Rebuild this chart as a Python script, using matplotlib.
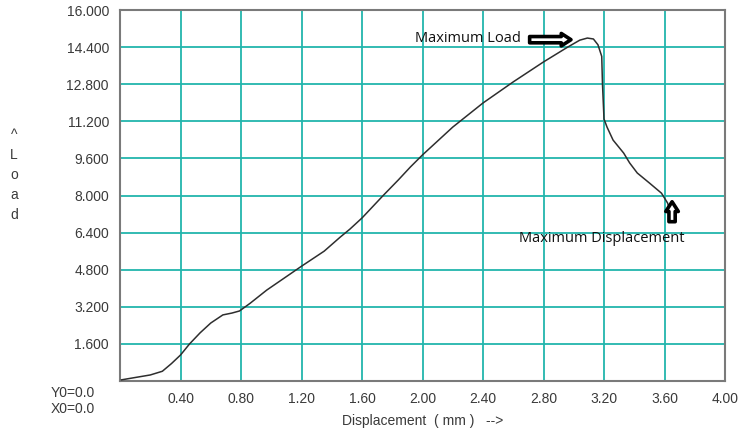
import matplotlib.pyplot as plt

# curva carga-desplazamiento
disp = [0.01, 0.10, 0.20, 0.28, 0.34, 0.40, 0.46, 0.53, 0.60, 0.68, 0.74, 0.79,
        0.86, 0.97, 1.20, 1.35, 1.455, 1.52, 1.60, 1.74, 1.84, 1.92, 2.00, 2.20,
        2.40, 2.60, 2.80, 2.96, 3.04, 3.09, 3.13, 3.16, 3.185, 3.19, 3.20, 3.22,
        3.26, 3.33, 3.37, 3.42, 3.50, 3.58, 3.62, 3.64]
load = [0.05, 0.15, 0.26, 0.42, 0.75, 1.12, 1.60, 2.08, 2.50, 2.85, 2.93, 3.02,
        3.35, 3.92, 4.95, 5.60, 6.20, 6.55, 7.03, 8.00, 8.67, 9.23, 9.75, 10.95,
        11.99, 12.90, 13.76, 14.40, 14.70, 14.79, 14.75, 14.50, 14.00, 12.80, 11.30, 10.95,
        10.39, 9.83, 9.40, 8.97, 8.54, 8.10, 7.68, 7.29]

xticks = [0.4, 0.8, 1.2, 1.6, 2.0, 2.4, 2.8, 3.2, 3.6, 4.0]
yticks = [1.6, 3.2, 4.8, 6.4, 8.0, 9.6, 11.2, 12.8, 14.4, 16.0]

fuente = 'Liberation Sans'
gris = '#3a3a3a'

fig = plt.figure(figsize=(7.42, 4.28), dpi=100)
ax = fig.add_axes([120 / 742, 1 - 381 / 428, 605 / 742, 371 / 428])

ax.plot(disp, load, color='#2e2e2e', lw=1.1, zorder=3)

ax.set_xlim(0, 4.0)
ax.set_ylim(0, 16.0)
ax.set_xticks(xticks)
ax.set_yticks(yticks)
ax.set_xticklabels(['%.2f' % v for v in xticks], fontsize=10, family=fuente, color=gris)
ax.set_yticklabels(['%.3f' % v for v in yticks], fontsize=10, family=fuente, color=gris)
ax.tick_params(length=0, pad=8)
ax.grid(True, color='#22b5ad', lw=1.3, zorder=0)
for s in ax.spines.values():
    s.set_color('#7a7a7a')
    s.set_linewidth(1.5)

# anotaciones
flecha = 'simple,head_length=0.7,head_width=0.9,tail_width=0.45'
ax.text(1.95, 14.79, 'Maximum Load', family='Open Sans', fontsize=10.5,
        va='center', ha='left', color='#111111')
ax.annotate('', xy=(3.0, 14.72), xytext=(2.69, 14.72),
            arrowprops=dict(arrowstyle=flecha, fc='white', ec='black', lw=2.6))
ax.text(2.64, 6.15, 'Maximum Displacement', family='Open Sans', fontsize=10.5,
        va='center', ha='left', color='#111111', zorder=5)
ax.annotate('', xy=(3.65, 7.85), xytext=(3.65, 6.75),
            arrowprops=dict(arrowstyle=flecha, fc='white', ec='black', lw=2.6))

ax.set_xlabel('Displacement  ( mm )   -->', fontsize=10, family=fuente, color=gris, labelpad=6)

fig.text(95 / 742, 1 - 393 / 428, 'Y0=0.0', fontsize=10, family=fuente, color=gris,
         ha='right', va='center')
fig.text(95 / 742, 1 - 409 / 428, 'X0=0.0', fontsize=10, family=fuente, color=gris,
         ha='right', va='center')

for i, letra in enumerate(['^', 'L', 'o', 'a', 'd']):
    fig.text(14 / 742, 1 - (135 + i * 20) / 428, letra, fontsize=10, family=fuente,
             color=gris, ha='center', va='center')

fig.savefig('out.png', dpi=100)
